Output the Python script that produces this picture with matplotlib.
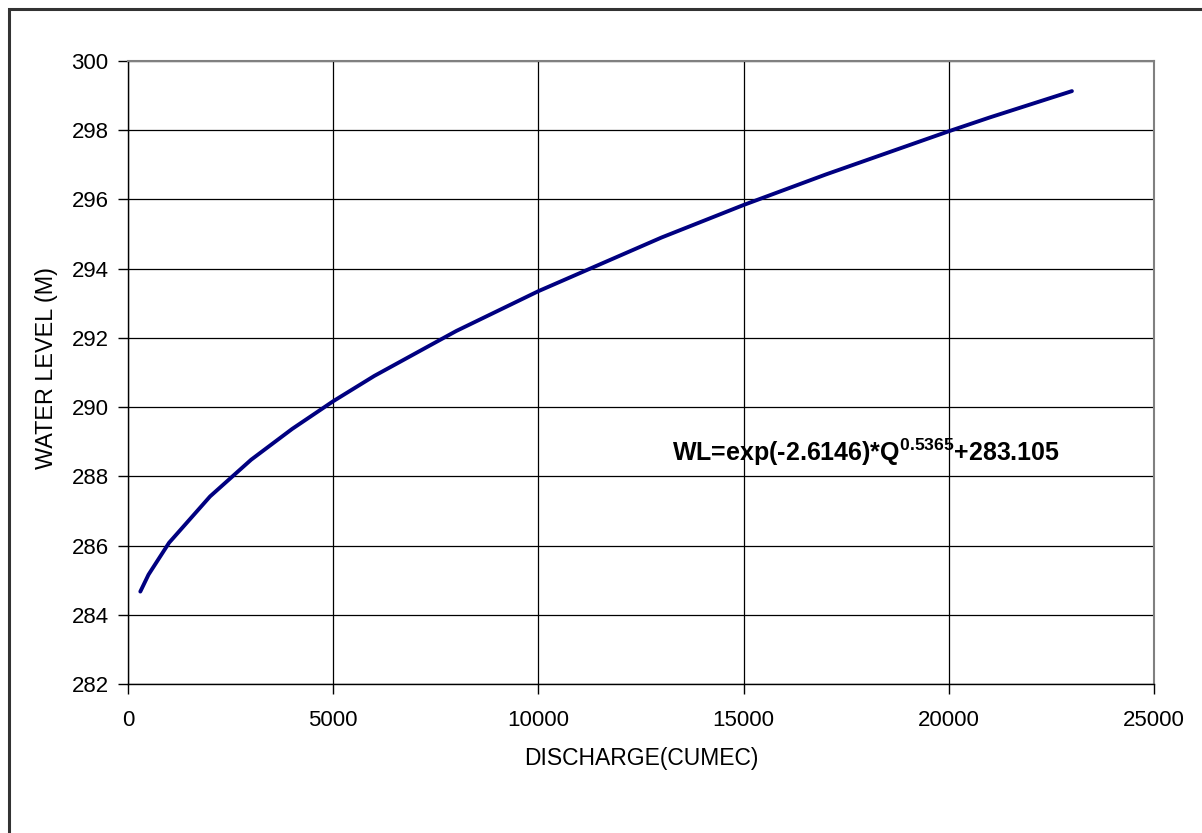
import matplotlib
matplotlib.use("Agg")
import matplotlib.pyplot as plt
from matplotlib.patches import Rectangle

plt.rcParams['font.family'] = ['Liberation Sans', 'DejaVu Sans']
plt.rcParams['mathtext.fontset'] = 'custom'
plt.rcParams['mathtext.rm'] = 'Liberation Sans:bold'
plt.rcParams['mathtext.bf'] = 'Liberation Sans:bold'
plt.rcParams['mathtext.it'] = 'Liberation Sans:bold'

# Rating curve: discharge (cumec) vs water level (m)
discharge = [300, 500, 1000, 2000, 3000, 4000, 5000, 6000, 8000, 10000,
             13000, 15000, 17000, 20000, 21000, 22000, 23000]
water_level = [284.67, 285.16, 286.08, 287.42, 288.48, 289.37, 290.17, 290.90,
               292.20, 293.35, 294.90, 295.84, 296.72, 297.97, 298.37, 298.75, 299.13]

x_ticks = [0, 5000, 10000, 15000, 20000, 25000]
y_ticks = [282, 284, 286, 288, 290, 292, 294, 296, 298, 300]

fig = plt.figure(figsize=(12.02, 8.33), dpi=100)
fig.patch.set_facecolor('white')

# outer chart frame
fig.patches.append(Rectangle((8.5 / 1202, -0.05), 1.2, 1 - 8.5 / 833 + 0.05,
                             transform=fig.transFigure, fill=False,
                             edgecolor='#333333', linewidth=2.2, zorder=0))

ax = fig.add_axes([128 / 1202, 1 - 684 / 833, (1154 - 128) / 1202, (684 - 61) / 833])
ax.plot(discharge, water_level, color='#000080', linewidth=2.8,
        solid_capstyle='round', solid_joinstyle='round', zorder=3)

ax.set_xlim(0, 25000)
ax.set_ylim(282, 300)
ax.set_xticks(x_ticks)
ax.set_yticks(y_ticks)
ax.tick_params(axis='both', direction='out', length=7, width=1, colors='black',
               labelsize=16)
ax.tick_params(axis='x', pad=12)
ax.tick_params(axis='y', pad=7)
ax.grid(True, color='black', linewidth=0.9)
ax.set_axisbelow(True)

for side in ('left', 'bottom'):
    ax.spines[side].set_color('black')
    ax.spines[side].set_linewidth(1.0)
for side in ('top', 'right'):
    ax.spines[side].set_color('#808080')
    ax.spines[side].set_linewidth(1.5)

ax.set_xlabel('DISCHARGE(CUMEC)', fontsize=16.5, labelpad=11)
ax.set_ylabel('WATER LEVEL (M)', fontsize=16.8)
ax.yaxis.set_label_coords((58 - 128) / 1026, (684 - 368) / 623)

ax.text(13250, 288.7, r'WL=exp(-2.6146)*Q$^{0.5365}$+283.105',
        fontsize=18, fontweight='bold', va='center', ha='left', zorder=4)

fig.savefig('out.png', dpi=100, facecolor='white')
